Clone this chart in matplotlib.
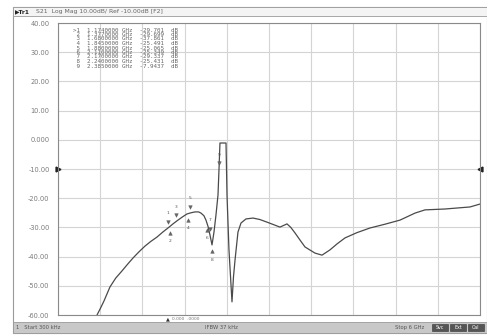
import numpy as np
import matplotlib
matplotlib.use("Agg")
import matplotlib.pyplot as plt
from matplotlib.patches import Rectangle

# ---- data ----
freq_ghz = [0.555, 0.610, 0.654, 0.739, 0.820, 0.910, 0.990, 1.066, 1.150, 1.237,
            1.320, 1.408, 1.490, 1.564, 1.640, 1.706, 1.770, 1.834, 1.890,
            1.948, 2.000, 2.033, 2.075, 2.104, 2.135, 2.161, 2.190, 2.218, 2.246,
            2.275, 2.289, 2.303, 2.389, 2.403, 2.431, 2.474, 2.495, 2.517, 2.559,
            2.602, 2.673, 2.773, 2.870, 2.972, 3.070, 3.156, 3.256, 3.310, 3.370,
            3.440, 3.512, 3.654, 3.754, 3.867, 3.970, 4.081, 4.250, 4.436, 4.650,
            4.863, 5.076, 5.218, 5.502, 5.858, 6.000]
s21_db = [-60.0, -57.4, -55.2, -50.4, -47.4, -44.9, -42.6, -40.5, -38.4, -36.4,
          -34.8, -33.3, -31.6, -30.2, -28.7, -27.5, -26.4, -25.4, -25.0,
          -24.7, -24.7, -25.1, -26.0, -27.5, -29.8, -32.6, -36.0, -31.6, -25.8,
          -18.9, -10.3, -1.1, -1.1, -18.9, -37.7, -55.5, -47.0, -41.2, -31.6,
          -28.5, -27.1, -26.8, -27.3, -28.2, -29.1, -29.9, -28.8, -30.0, -31.9,
          -34.3, -36.7, -38.8, -39.5, -37.7, -35.6, -33.6, -31.8, -30.2, -28.9,
          -27.5, -25.1, -24.0, -23.7, -23.0, -22.0]

marker_ids = ["1", "2", "3", "4", "5", "6", "7", "8", "9"]
marker_freq = [1.564, 1.592, 1.678, 1.848, 1.877, 2.118, 2.161, 2.190, 2.289]
marker_table = [
    ">1  1.1740000 GHz  -29.701  dB",
    " 2  1.3770000 GHz  -29.699  dB",
    " 3  1.6800000 GHz  -37.861  dB",
    " 4  1.8450000 GHz  -25.491  dB",
    " 5  1.8800000 GHz  -25.065  dB",
    " 6  2.1100000 GHz  -25.349  dB",
    " 7  2.1700000 GHz  -29.337  dB",
    " 8  2.2400000 GHz  -25.431  dB",
    " 9  2.3850000 GHz  -7.9437  dB",
]
ytick_vals = [40, 30, 20, 10, 0, -10, -20, -30, -40, -50, -60]
ytick_labels = ["40.00", "30.00", "20.00", "10.00", "0.000", "-10.00", "-20.00",
                "-30.00", "-40.00", "-50.00", "-60.00"]
x_start, x_stop = 0.0003, 6.0

W, H = 487, 336
fig = plt.figure(figsize=(W / 100, H / 100), dpi=100)
fig.patch.set_facecolor("white")

def fx(px):
    return px / W

def fy(py):
    return 1 - py / H

# outer frame lines
fig.add_artist(Rectangle((fx(13), fy(333)), fx(487) - fx(13), fy(7) - fy(333),
                         transform=fig.transFigure, fill=False, ec="#9a9a9a", lw=0.8))
# title bar
fig.add_artist(Rectangle((fx(13), fy(16)), fx(487) - fx(13), fy(7) - fy(16),
                         transform=fig.transFigure, fc="#f4f4f4", ec="#9a9a9a", lw=0.6))
fig.text(fx(15), fy(11.5), "\u25B6Tr1", fontsize=4.2, color="#222", va="center",
         fontweight="bold")
fig.text(fx(36), fy(11.5), "S21  Log Mag 10.00dB/ Ref -10.00dB [F2]", fontsize=4.4,
         color="#666", va="center")
# status bar
fig.add_artist(Rectangle((fx(13), fy(333)), fx(487) - fx(13), fy(322) - fy(333),
                         transform=fig.transFigure, fc="#c8c8c8", ec="#9a9a9a", lw=0.6))
fig.text(fx(16), fy(327.5), "1   Start 300 kHz", fontsize=3.8, color="#555", va="center")
fig.text(fx(205), fy(327.5), "IFBW 37 kHz", fontsize=3.8, color="#555", va="center")
fig.text(fx(395), fy(327.5), "Stop 6 GHz", fontsize=3.8, color="#555", va="center")
for bx, t in zip([432, 450, 468], ["Svc", "Ext", "Cal"]):
    fig.add_artist(Rectangle((fx(bx), fy(331)), fx(16), fy(324) - fy(331),
                             transform=fig.transFigure, fc="#555", ec="#333", lw=0.4))
    fig.text(fx(bx + 8), fy(327.5), t, fontsize=3.4, color="white", va="center",
             ha="center")

ax = fig.add_axes([fx(58), fy(315), fx(480) - fx(58), fy(23) - fy(315)])
ax.set_xlim(x_start, x_stop)
ax.set_ylim(-60, 40)
ax.set_xticks(np.linspace(x_start, x_stop, 11))
ax.set_yticks(ytick_vals)
ax.set_xticklabels([])
ax.set_yticklabels(ytick_labels, fontsize=4.8, color="#7a7a7a")
ax.tick_params(length=0, pad=6)
ax.grid(True, color="#d4d4d4", lw=0.8)
for s in ax.spines.values():
    s.set_color("#8a8a8a")
    s.set_linewidth(0.8)

ax.plot(freq_ghz, s21_db, color="#4a4a4a", lw=0.9)

# markers on trace
for i, (mid, mf) in enumerate(zip(marker_ids, marker_freq)):
    md = float(np.interp(mf, freq_ghz, s21_db))
    up = i % 2 == 0
    ax.plot([mf], [md + (2.2 if up else -2.2)], marker="v" if up else "^",
            ms=2.6, color="#666", mec="#555", mew=0.3)
    ax.text(mf, md + (5.0 if up else -5.0), mid, fontsize=3.2, color="#555",
            ha="center", va="center")

# reference level arrows
ax.plot([x_start], [-10], marker=">", ms=3.5, color="#222", clip_on=False)
ax.plot([x_stop], [-10], marker="<", ms=3.5, color="#222", clip_on=False)

# marker table
for i, line in enumerate(marker_table):
    fig.text(fx(73), fy(30 + i * 4.5), line, fontsize=4.2, color="#666",
             family="DejaVu Sans Mono", va="center")

fig.text(fx(168), fy(319), "\u25B2", fontsize=3.6, color="#333", ha="center", va="center")
fig.text(fx(172), fy(319), "0.000  .0000", fontsize=3.2, color="#777", va="center")

fig.savefig("out.png", dpi=100)
